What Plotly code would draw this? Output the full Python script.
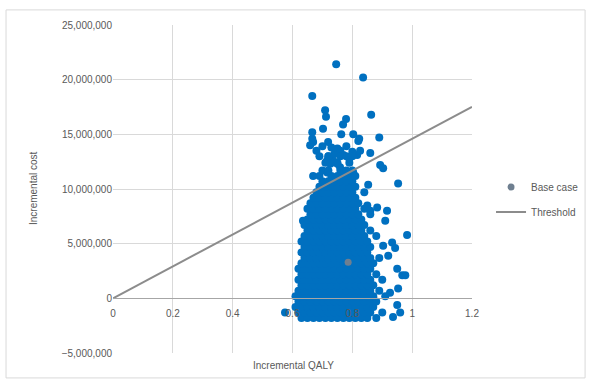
import plotly.graph_objects as go

# ---- Data ----
# Sparse simulations (QALY, cost in millions)
sparse_qaly = [0.746, 0.836, 0.666, 0.709, 0.712, 0.863, 0.779, 0.769, 0.702, 0.666,
               0.666, 0.669, 0.763, 0.803, 0.823, 0.890, 0.719, 0.659, 0.730, 0.750,
               0.820, 0.716, 0.726, 0.736, 0.770, 0.790, 0.816, 0.826, 0.860, 0.893,
               0.903, 0.669, 0.716, 0.759, 0.783, 0.803, 0.853, 0.953, 0.850, 0.860,
               0.883, 0.916, 0.910, 0.635, 0.650, 0.983, 0.903, 0.933, 0.943, 0.920,
               0.950, 0.967, 0.977, 0.953, 0.926, 0.950, 0.960, 0.936, 0.575, 0.680,
               0.700, 0.690, 0.740, 0.760, 0.720, 0.800, 0.780, 0.750]
sparse_cost_m = [21.4, 20.2, 18.5, 17.2, 16.6, 16.8, 16.4, 15.9, 15.5, 15.2,
                 14.6, 14.3, 15.0, 15.0, 14.6, 14.7, 14.3, 14.0, 13.8, 13.7,
                 14.4, 12.6, 12.3, 12.6, 13.1, 12.8, 13.1, 13.5, 13.3, 12.2,
                 11.9, 11.2, 11.5, 12.0, 11.4, 11.5, 10.4, 10.5, 8.5, 8.0,
                 8.3, 8.0, 7.1, 7.1, 6.7, 5.8, 4.8, 5.1, 4.6, 3.9,
                 2.7, 2.1, 2.1, 0.9, 0.5, -0.6, -1.3, -1.7, -1.3, 13.5,
                 13.9, 13.0, 13.2, 13.5, 13.0, 13.4, 13.9, 12.3]

# Dense core of simulations: cost level (millions) and the QALY values on it
core_cost_m = [-1.8, -1.3, -0.8, -0.3, 0.2, 0.7, 1.2, 1.7, 2.2, 2.7, 3.2, 3.7, 4.2,
               4.7, 5.2, 5.7, 6.2, 6.7, 7.2, 7.7, 8.2, 8.7, 9.2, 9.7, 10.2, 10.7,
               11.2, 11.7, 12.4, 13.0]
core_qaly = [
    [0.63, 0.65, 0.67, 0.69, 0.71, 0.73, 0.75, 0.77, 0.79, 0.81, 0.83, 0.85, 0.88],
    [0.62, 0.64, 0.66, 0.68, 0.70, 0.72, 0.74, 0.76, 0.78, 0.80, 0.82, 0.84, 0.86, 0.90],
    [0.61, 0.63, 0.65, 0.67, 0.69, 0.71, 0.73, 0.75, 0.77, 0.79, 0.81, 0.83, 0.85, 0.87],
    [0.62, 0.64, 0.66, 0.68, 0.70, 0.72, 0.74, 0.76, 0.78, 0.80, 0.82, 0.84, 0.86, 0.88],
    [0.61, 0.63, 0.65, 0.67, 0.69, 0.71, 0.73, 0.75, 0.77, 0.79, 0.81, 0.83, 0.85, 0.87, 0.91],
    [0.62, 0.64, 0.66, 0.68, 0.70, 0.72, 0.74, 0.76, 0.78, 0.80, 0.82, 0.84, 0.86, 0.89],
    [0.63, 0.65, 0.67, 0.69, 0.71, 0.73, 0.75, 0.77, 0.79, 0.81, 0.83, 0.85, 0.87],
    [0.62, 0.64, 0.66, 0.68, 0.70, 0.72, 0.74, 0.76, 0.78, 0.80, 0.82, 0.84, 0.86, 0.90],
    [0.63, 0.65, 0.67, 0.69, 0.71, 0.73, 0.75, 0.77, 0.79, 0.81, 0.83, 0.85, 0.88],
    [0.62, 0.64, 0.66, 0.68, 0.70, 0.72, 0.74, 0.76, 0.78, 0.80, 0.82, 0.84, 0.86],
    [0.63, 0.65, 0.67, 0.69, 0.71, 0.73, 0.75, 0.77, 0.79, 0.81, 0.83, 0.85, 0.87],
    [0.64, 0.66, 0.68, 0.70, 0.72, 0.74, 0.76, 0.78, 0.80, 0.82, 0.84, 0.86, 0.89],
    [0.63, 0.65, 0.67, 0.69, 0.71, 0.73, 0.75, 0.77, 0.79, 0.81, 0.83, 0.85],
    [0.64, 0.66, 0.68, 0.70, 0.72, 0.74, 0.76, 0.78, 0.80, 0.82, 0.84, 0.86],
    [0.63, 0.65, 0.67, 0.69, 0.71, 0.73, 0.75, 0.77, 0.79, 0.81, 0.83, 0.85],
    [0.64, 0.66, 0.68, 0.70, 0.72, 0.74, 0.76, 0.78, 0.80, 0.82, 0.84, 0.88],
    [0.65, 0.67, 0.69, 0.71, 0.73, 0.75, 0.77, 0.79, 0.81, 0.83, 0.86],
    [0.64, 0.66, 0.68, 0.70, 0.72, 0.74, 0.76, 0.78, 0.80, 0.82, 0.84],
    [0.65, 0.67, 0.69, 0.71, 0.73, 0.75, 0.77, 0.79, 0.81, 0.83],
    [0.66, 0.68, 0.70, 0.72, 0.74, 0.76, 0.78, 0.80, 0.82, 0.86],
    [0.65, 0.67, 0.69, 0.71, 0.73, 0.75, 0.77, 0.79, 0.81, 0.84],
    [0.66, 0.68, 0.70, 0.72, 0.74, 0.76, 0.78, 0.80, 0.82],
    [0.67, 0.69, 0.71, 0.73, 0.75, 0.77, 0.79, 0.81],
    [0.68, 0.70, 0.72, 0.74, 0.76, 0.78, 0.80, 0.84],
    [0.69, 0.71, 0.73, 0.75, 0.77, 0.79, 0.81],
    [0.70, 0.72, 0.74, 0.76, 0.78, 0.80],
    [0.69, 0.73, 0.75, 0.77, 0.79, 0.81],
    [0.70, 0.72, 0.76, 0.78, 0.80],
    [0.71, 0.73, 0.75, 0.79],
    [0.72, 0.76, 0.78, 0.80],
]

base_qaly = [0.786]
base_cost = [3_300_000]

threshold_qaly = [0, 1.2]
threshold_cost = [0, 17_520_000]

yticks = [-5_000_000, 0, 5_000_000, 10_000_000, 15_000_000, 20_000_000, 25_000_000]
xticks = [0, 0.2, 0.4, 0.6, 0.8, 1.0, 1.2]
xticklabels = ["0", "0.2", "0.4", "0.6", "0.8", "1", "1.2"]

# ---- Build series ----
qaly = list(sparse_qaly)
cost = [c * 1_000_000 for c in sparse_cost_m]
for level, row in zip(core_cost_m, core_qaly):
    for q in row:
        qaly.append(q)
        cost.append(level * 1_000_000)

TXT = "#595959"
FONT = "Liberation Sans, Arial, sans-serif"

fig = go.Figure()
fig.add_trace(go.Scatter(
    x=qaly, y=cost, mode="markers", showlegend=False,
    marker=dict(color="#0070C0", size=8, line=dict(width=0)),
))
fig.add_trace(go.Scatter(
    x=base_qaly, y=base_cost, mode="markers", name="Base case",
    legendgroup="a",
    marker=dict(color="#6f7f90", size=7, line=dict(width=0)),
))
fig.add_trace(go.Scatter(
    x=threshold_qaly, y=threshold_cost, mode="lines", name="Threshold",
    legendgroup="b",
    line=dict(color="#8c8c8c", width=2),
))

# plot area: x 113..472 px, y 25..353 px
fig.update_layout(
    width=593, height=384,
    margin=dict(l=113, r=121, t=25, b=31, autoexpand=False),
    paper_bgcolor="white", plot_bgcolor="white",
    font=dict(family=FONT, size=10, color=TXT),
    xaxis=dict(
        range=[0, 1.2], tickvals=xticks, ticktext=xticklabels,
        showgrid=True, gridcolor="#d9d9d9", gridwidth=1,
        zeroline=False, showline=True, linecolor="#a6a6a6", linewidth=1,
        anchor="free", position=(353 - 298) / 328,
        ticks="", ticklabelstandoff=6, tickfont=dict(size=10, color=TXT),
    ),
    yaxis=dict(
        range=[-5_000_000, 25_000_000], tickvals=yticks, tickformat=",",
        showgrid=True, gridcolor="#d9d9d9", gridwidth=1,
        zeroline=False, showline=False, ticks="",
        tickfont=dict(size=10, color=TXT),
    ),
    legend=dict(
        x=1.053, y=0.55, xanchor="left", yanchor="top",
        font=dict(size=10, color=TXT), bgcolor="rgba(0,0,0,0)",
        traceorder="grouped", tracegroupgap=6,
    ),
    annotations=[
        dict(text="Incremental cost", xref="paper", yref="paper",
             x=(33 - 113) / 359, y=(353 - 188) / 328, xanchor="center", yanchor="middle",
             textangle=-90, showarrow=False,
             font=dict(size=10, color=TXT)),
        dict(text="Incremental QALY", xref="paper", yref="paper",
             x=(293 - 113) / 359, y=(353 - 365) / 328, xanchor="center", yanchor="middle",
             showarrow=False,
             font=dict(size=10, color=TXT)),
    ],
    shapes=[
        dict(type="rect", xref="paper", yref="paper",
             x0=-0.298, x1=1.315, y0=-0.076, y1=1.046,
             line=dict(color="#d9d9d9", width=1), layer="below"),
    ],
)

fig.write_html("out.html", config={"displayModeBar": False},
               post_script="document.body.style.margin='0';")
